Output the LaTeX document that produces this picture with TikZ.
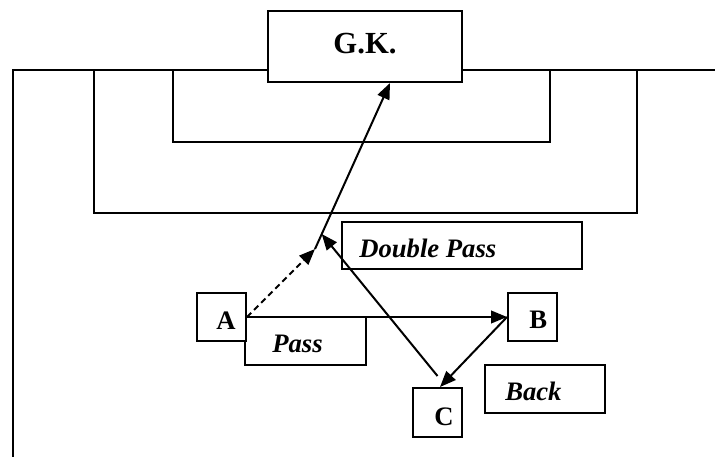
\documentclass[tikz,border=0pt]{standalone}
\usepackage{fontspec}
\setmainfont{Liberation Serif}
\usetikzlibrary{arrows.meta, calc}

\begin{document}
\begin{tikzpicture}[x=0.75pt, y=-0.75pt,
  field/.style={line width=1.5pt},
  player/.style={draw, line width=1.5pt, fill=white, inner sep=0pt, minimum width=36.75pt, minimum height=36pt},
  tagbox/.style={draw, line width=1.5pt, fill=white, inner sep=0pt, minimum height=36pt},
  lbl/.style={font=\fontsize{20}{23}\selectfont\bfseries, anchor=base west, inner sep=0pt},
  tagtext/.style={lbl, font=\fontsize{20}{23}\selectfont\bfseries\itshape},
  pass/.style={line width=1.5pt, -{Triangle[length=12pt, width=9.5pt]}}]
  \useasboundingbox (0,0) rectangle (715,457);

  % Pitch lines
  \draw[field] (715,70) -- (13,70) -- (13,457);
  \draw[field] (93.5,70) |- (637,213) -- (637,70);
  \draw[field] (173,70) |- (549.5,142) -- (549.5,70);

  % Goalkeeper
  \node[tagbox, minimum width=145.5pt, minimum height=53.25pt] (GK) at (365,46.5) {};
  \node[lbl, font=\fontsize{23}{26}\selectfont\bfseries, anchor=base] (GKlab) at (365,53) {G.K.};

  % Text boxes
  \node[tagbox, minimum width=180pt, minimum height=35.25pt] (DP) at (462,245.5) {};
  \node[tagtext] (DPlab) at (359,257) {Double Pass};
  \node[tagbox, minimum width=90.75pt] (P) at (305.5,341) {};
  \node[tagtext] (Plab) at (272,352) {Pass};
  \node[tagbox, minimum width=90pt] (Bk) at (545,389) {};
  \node[tagtext] (Bklab) at (505,400) {Back};

  % Players
  \node[player] (A) at (221.5,317) {};
  \node[lbl] (Alab) at (216,329) {A};
  \node[player] (B) at (532.5,317) {};
  \node[lbl] (Blab) at (529,328) {B};
  \node[player, minimum height=36.75pt] (C) at (437.5,412.5) {};
  \node[lbl] (Clab) at (434,425) {C};

  % Passes
  \coordinate (J) at (315,249);
  \coordinate (K) at (321.7,234);
  \draw[pass] (A.east) -- (B.west);
  \draw[pass] (B.west) -- ($(C.north)+(2.5,0)$);
  \draw[pass, dash pattern=on 4.5pt off 3pt] (A.east) -- (J);
  \draw[pass] ($(C.north)+(0,-11)$) -- (K);
  \draw[pass] (J) -- ($(GK.south)+(25,0)$);
\end{tikzpicture}
\end{document}
